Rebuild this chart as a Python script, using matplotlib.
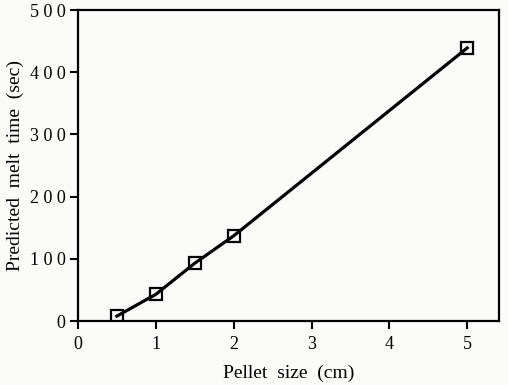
import matplotlib.pyplot as plt

# pellet size (cm) vs predicted melt time (sec)
pellet_size = [0.5, 1.0, 1.5, 2.0, 5.0]
melt_time = [8, 43, 93, 137, 439]

x_ticks = [0, 1, 2, 3, 4, 5]
y_ticks = [0, 100, 200, 300, 400, 500]

plt.rcParams['font.family'] = ['Liberation Serif', 'DejaVu Serif']

fig = plt.figure(figsize=(5.08, 3.85), dpi=100)
fig.patch.set_facecolor('#fbfbfa')
ax = fig.add_axes([0.1535, 0.166, 0.829, 0.808])
ax.set_facecolor('#fbfbfa')

ax.plot(pellet_size, melt_time, color='black', lw=2.3, zorder=2)
ax.plot(pellet_size, melt_time, ls='none', marker='s', ms=8, mfc='none',
        mec='black', mew=1.6, zorder=3)

ax.set_xlim(0, 5.41)
ax.set_ylim(0, 500)
ax.set_xticks(x_ticks)
ax.set_yticks(y_ticks)
ax.set_xticklabels([str(v) for v in x_ticks])
ax.set_yticklabels([' '.join(str(v)) for v in y_ticks])

for s in ax.spines.values():
    s.set_linewidth(1.6)
ax.tick_params(direction='out', length=6, width=1.5, labelsize=13, pad=3)
ax.tick_params(axis='x', pad=5)

ax.set_xlabel('Pellet  size  (cm)', fontsize=14, labelpad=8)
ax.set_ylabel('Predicted  melt  time  (sec)', fontsize=14, labelpad=4)

fig.savefig('out.png', dpi=100, facecolor=fig.get_facecolor())
